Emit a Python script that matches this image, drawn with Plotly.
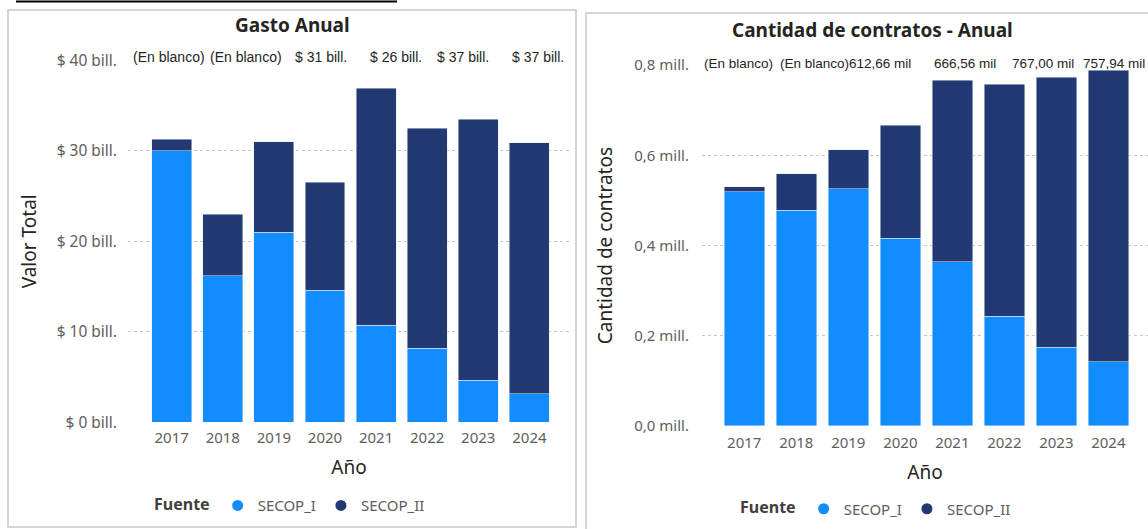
import plotly.graph_objects as go

# ---------------- data ----------------
years = ["2017", "2018", "2019", "2020", "2021", "2022", "2023", "2024"]

# Gasto anual (billones de pesos)
gasto_secop_i = [30.0, 16.2, 21.0, 14.6, 10.75, 8.2, 4.67, 3.13]
gasto_secop_ii = [1.3, 6.8, 10.0, 11.9, 26.15, 24.3, 28.83, 27.77]

# Cantidad de contratos (millones)
contratos_secop_i = [0.5195, 0.478, 0.526, 0.416, 0.364, 0.243, 0.175, 0.142]
contratos_secop_ii = [0.0115, 0.081, 0.0867, 0.2506, 0.403, 0.5149, 0.598, 0.647]

gasto_labels = ["(En blanco)", "(En blanco)", "$ 31 bill.", "$ 26 bill.", "$ 37 bill.", "$ 37 bill."]
contratos_labels = ["(En blanco)", "(En blanco)", "612,66 mil", "666,56 mil", "767,00 mil", "757,94 mil"]

series_names = ["SECOP_I", "SECOP_II"]

# ---------------- style ----------------
W, H = 1148, 529
C_LIGHT = "#118DFF"
C_DARK = "#233974"
FONT = "Segoe UI, 'Noto Sans', sans-serif"
TICK_C = "#605E5C"
TITLE_C = "#252423"
GRID_C = "#C8C6C4"
LABEL_FONT = "'Liberation Sans', Arial, sans-serif"

def px(x):
    return x / W

def py(y):
    return (H - y) / H

gasto_label_x = [130.7, 208.3, 293, 368, 435, 510]
contratos_label_x = [701.7, 777.5, 847, 932, 1010, 1081]

fig = go.Figure()

# Left chart bars
fig.add_trace(go.Bar(x=years, y=gasto_secop_i, name=series_names[0], marker_color=C_LIGHT,
                     xaxis="x", yaxis="y", showlegend=False, legendgroup="a1"))
fig.add_trace(go.Bar(x=years, y=gasto_secop_ii, name=series_names[1], marker_color=C_DARK,
                     xaxis="x", yaxis="y", showlegend=False, legendgroup="a2"))
# Right chart bars
fig.add_trace(go.Bar(x=years, y=contratos_secop_i, name=series_names[0], marker_color=C_LIGHT,
                     xaxis="x2", yaxis="y2", showlegend=False, legendgroup="b1"))
fig.add_trace(go.Bar(x=years, y=contratos_secop_ii, name=series_names[1], marker_color=C_DARK,
                     xaxis="x2", yaxis="y2", showlegend=False, legendgroup="b2"))

# Legend entries (circle markers like the original)
for name, col, grp, leg, xa, ya in [
    (series_names[0], C_LIGHT, "a1", "legend", "x", "y"),
    (series_names[1], C_DARK, "a2", "legend", "x", "y"),
    (series_names[0], C_LIGHT, "b1", "legend2", "x2", "y2"),
    (series_names[1], C_DARK, "b2", "legend2", "x2", "y2"),
]:
    fig.add_trace(go.Scatter(x=[None], y=[None], mode="markers", name=name,
                             marker=dict(color=col, size=11, symbol="circle"),
                             legendgroup=grp, legend=leg, xaxis=xa, yaxis=ya))

axis_common = dict(showline=False, zeroline=False, ticks="", fixedrange=True, automargin=False)

fig.update_layout(
    width=W, height=H, autosize=False,
    margin=dict(l=0, r=0, t=0, b=0, pad=0, autoexpand=False),
    paper_bgcolor="white", plot_bgcolor="white",
    font=dict(family=FONT, color=TICK_C, size=15),
    separators=",.",
    barmode="stack", bargap=0.22,
    xaxis=dict(domain=[px(128), px(570)], anchor="y", type="category", range=[-0.855, 7.795],
               showgrid=False, tickfont=dict(size=15, color=TICK_C), ticklabelstandoff=5,
               title=dict(text="Año", font=dict(size=19, color=TITLE_C), standoff=14),
               **axis_common),
    yaxis=dict(domain=[py(422.3), py(60.3)], anchor="x", range=[0, 40], dtick=10,
               tickprefix="$ ", ticksuffix=" bill.", showgrid=True, gridcolor=GRID_C,
               griddash="dot", gridwidth=1, ticklabelstandoff=10,
               tickfont=dict(size=15.5, color=TICK_C),
               title=dict(text="Valor Total", font=dict(size=19, color=TITLE_C), standoff=15),
               **axis_common),
    xaxis2=dict(domain=[px(702), 1.0], anchor="y2", type="category", range=[-0.813, 7.763],
                showgrid=False, tickfont=dict(size=15, color=TICK_C), ticklabelstandoff=6,
                title=dict(text="Año", font=dict(size=19, color=TITLE_C), standoff=14),
                **axis_common),
    yaxis2=dict(domain=[py(426), py(65.2)], anchor="x2", range=[0, 0.8], dtick=0.2,
                tickformat=".1f", ticksuffix=" mill.", showgrid=True, gridcolor=GRID_C,
                griddash="dot", gridwidth=1, ticklabelstandoff=12,
                tickfont=dict(size=15, color=TICK_C),
                title=dict(text="Cantidad de contratos", font=dict(size=19, color=TITLE_C), standoff=16),
                **axis_common),
    legend=dict(orientation="h", x=px(291), y=py(505.7), xanchor="center", yanchor="middle",
                title=dict(text="<b>Fuente</b>", font=dict(size=16, color="#404040")),
                font=dict(size=15, color=TICK_C), bgcolor="rgba(0,0,0,0)", itemwidth=30),
    legend2=dict(orientation="h", x=px(877), y=py(509), xanchor="center", yanchor="middle",
                 title=dict(text="<b>Fuente</b>", font=dict(size=16, color="#404040")),
                 font=dict(size=15, color=TICK_C), bgcolor="rgba(0,0,0,0)", itemwidth=30),
)

annotations = [
    dict(text="<b>Gasto Anual</b>", x=px(292), y=py(25), xref="paper", yref="paper",
         showarrow=False, font=dict(size=19, color=TITLE_C), xanchor="center", yanchor="middle"),
    dict(text="<b>Cantidad de contratos - Anual</b>", x=px(872), y=py(30), xref="paper", yref="paper",
         showarrow=False, font=dict(size=19, color=TITLE_C), xanchor="center", yanchor="middle"),
]
for t, xp in zip(gasto_labels, gasto_label_x):
    annotations.append(dict(text=t, x=px(xp), y=py(57.3), xref="paper", yref="paper", showarrow=False,
                            xanchor="left", yanchor="middle",
                            font=dict(family=LABEL_FONT, size=14, color=TITLE_C)))
for t, xp in zip(contratos_labels, contratos_label_x):
    annotations.append(dict(text=t, x=px(xp), y=py(63), xref="paper", yref="paper", showarrow=False,
                            xanchor="left", yanchor="middle",
                            font=dict(family=LABEL_FONT, size=13.5, color=TITLE_C)))
fig.update_layout(annotations=annotations)

shapes = [
    # panel borders
    dict(type="rect", xref="paper", yref="paper", x0=px(8), x1=px(576), y0=py(527), y1=py(10),
         line=dict(color="#C8C8C8", width=1.5), fillcolor="rgba(0,0,0,0)", layer="below"),
    dict(type="rect", xref="paper", yref="paper", x0=px(586), x1=px(1170), y0=py(560), y1=py(13),
         line=dict(color="#C8C8C8", width=1.5), fillcolor="rgba(0,0,0,0)", layer="below"),
    # black rule at the top
    dict(type="line", xref="paper", yref="paper", x0=px(16), x1=px(397), y0=py(1.5), y1=py(1.5),
         line=dict(color="black", width=2)),
]
fig.update_layout(shapes=shapes)

fig.write_html("out.html", config={"displayModeBar": False},
               post_script="document.body.style.margin='0';")
